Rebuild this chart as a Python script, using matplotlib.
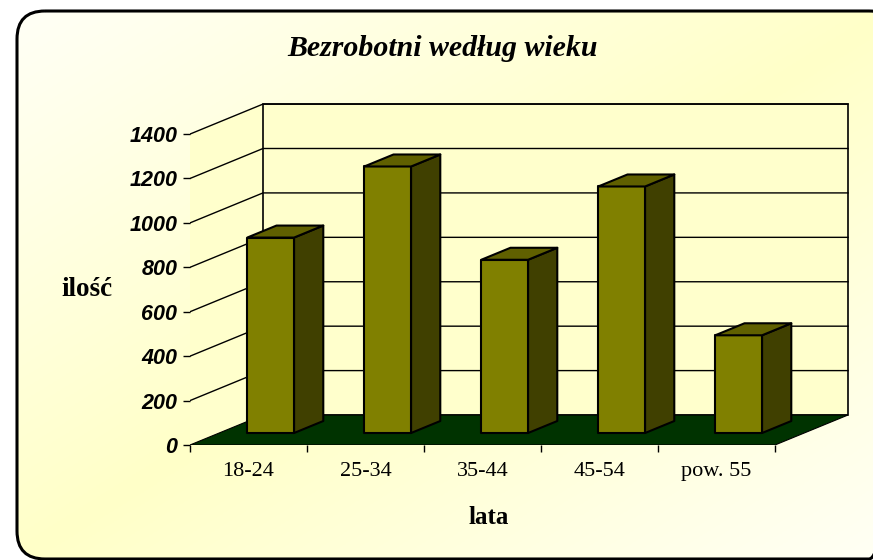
import numpy as np
import matplotlib
matplotlib.use("Agg")
import matplotlib.pyplot as plt
from matplotlib.patches import Polygon, FancyBboxPatch

# data
categories = ["18-24", "25-34", "35-44", "45-54", "pow. 55"]
values = [880, 1200, 780, 1110, 440]
y_ticks = [0, 200, 400, 600, 800, 1000, 1200, 1400]

title = "Bezrobotni według wieku"
y_label = "ilość"
x_label = "lata"

# oblique 3D look: depth offset of the back wall (category units, value units)
DX, DY = 0.624, 135
BAR_LEFT, BAR_W = 0.24, 0.40
BAR_D0, BAR_D1 = 0.4, 0.8

FRONT = "#808000"
SIDE = "#404000"
TOP = "#606000"
FLOOR = "#003300"
WALL = "#FFFFCC"

W, H = 873, 560
fig = plt.figure(figsize=(W / 100, H / 100), dpi=100)
fig.patch.set_facecolor("white")

# background: rounded frame with a diagonal cream gradient
bg = fig.add_axes([0, 0, 1, 1])
bg.set_xlim(0, W)
bg.set_ylim(H, 0)
bg.axis("off")
u = np.linspace(0, 1, 200)
uu, vv = np.meshgrid(u, u)
t = np.abs(uu + vv - 1)
c0 = np.array([255, 255, 200]) / 255
c1 = np.array([255, 255, 246]) / 255
img = c0[None, None, :] * (1 - t[..., None]) + c1[None, None, :] * t[..., None]
frame = FancyBboxPatch((17, 11), 880, 548, boxstyle="round,pad=0,rounding_size=28",
                       facecolor="none", edgecolor="black", lw=2.2, zorder=3)
bg.add_patch(frame)
im = bg.imshow(img, extent=(17, 897, 559, 11), aspect="auto", zorder=1)
im.set_clip_path(frame)

# main plot area
n = len(categories)
ymax = y_ticks[-1]
ax = fig.add_axes([190 / W, 115 / H, 5.7 * 117 / W, 1560 * 0.2221 / H])
ax.set_xlim(0, 5.7)
ax.set_ylim(0, 1560)
ax.patch.set_alpha(0)
for s in ax.spines.values():
    s.set_visible(False)

# walls
ax.add_patch(Polygon([(0, 0), (DX, DY), (DX, ymax + DY), (0, ymax)],
                     facecolor=WALL, edgecolor="none", zorder=1))
ax.add_patch(Polygon([(DX, DY), (n + DX, DY), (n + DX, ymax + DY), (DX, ymax + DY)],
                     facecolor=WALL, edgecolor="black", lw=1.2, zorder=1))
for v in y_ticks[1:]:
    ax.plot([0, DX, n + DX], [v, v + DY, v + DY], color="black", lw=1.0, zorder=2)

# floor
ax.add_patch(Polygon([(0, 0), (DX, DY), (n + DX, DY), (n, 0)],
                     facecolor=FLOOR, edgecolor="black", lw=0.8, zorder=3))

# bars
for i, v in enumerate(values):
    x0 = i + BAR_LEFT + BAR_D0 * DX
    x1 = x0 + BAR_W
    y0 = BAR_D0 * DY
    ddx = (BAR_D1 - BAR_D0) * DX
    ddy = (BAR_D1 - BAR_D0) * DY
    kw = dict(edgecolor="black", lw=1.5, joinstyle="round", zorder=4)
    ax.add_patch(Polygon([(x0, y0), (x1, y0), (x1, y0 + v), (x0, y0 + v)], facecolor=FRONT, **kw))
    ax.add_patch(Polygon([(x1, y0), (x1 + ddx, y0 + ddy), (x1 + ddx, y0 + ddy + v), (x1, y0 + v)],
                         facecolor=SIDE, **kw))
    ax.add_patch(Polygon([(x0, y0 + v), (x1, y0 + v), (x1 + ddx, y0 + ddy + v), (x0 + ddx, y0 + ddy + v)],
                         facecolor=TOP, **kw))

# ticks
ax.set_yticks(y_ticks)
ax.set_yticklabels([str(v) for v in y_ticks], fontfamily="Liberation Sans",
                   fontweight="bold", fontstyle="italic", fontsize=15.5)
ax.tick_params(axis="y", direction="out", length=5, width=1, pad=4)
ax.set_xticks(range(n + 1))
ax.set_xticklabels([])
ax.set_xticks([i + 0.5 for i in range(n)], minor=True)
ax.set_xticklabels(categories, minor=True, fontfamily="Liberation Serif", fontsize=16)
ax.tick_params(axis="x", which="major", direction="out", length=5, width=1)
ax.tick_params(axis="x", which="minor", length=0, pad=12)

fig.text(443 / W, 1 - 48 / H, title, ha="center", va="center", fontfamily="Liberation Serif",
         fontweight="bold", fontstyle="italic", fontsize=21.5)
fig.text(87 / W, 1 - 289 / H, y_label, ha="center", va="center", fontfamily="Liberation Serif",
         fontweight="bold", fontsize=19.5)
fig.text(489 / W, 1 - 517 / H, x_label, ha="center", va="center", fontfamily="Liberation Serif",
         fontweight="bold", fontsize=18)

fig.savefig("out.png", dpi=100)
